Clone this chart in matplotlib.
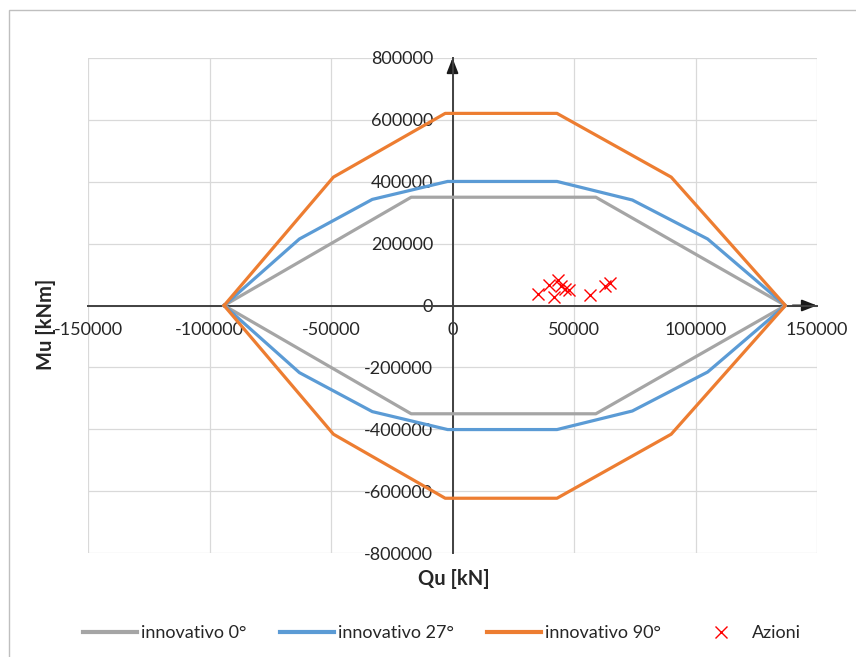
import matplotlib

matplotlib.use("Agg")
import matplotlib.pyplot as plt
from matplotlib.lines import Line2D
from matplotlib.patches import Rectangle

plt.rcParams["font.family"] = ["Lato", "DejaVu Sans"]

# --------------------------------------------------------------------------- #
# Data (Qu [kN], Mu [kNm])
# --------------------------------------------------------------------------- #
qu_0 = [-94000, -17000, 59000, 137000, 59000, -17000, -94000]
mu_0 = [0, 350000, 350000, 0, -350000, -350000, 0]

qu_27 = [-94000, -63000, -33000, -2000, 43000, 74000, 105000, 137000,
         105000, 74000, 43000, -2000, -33000, -63000, -94000]
mu_27 = [0, 215000, 343000, 401000, 401000, 341000, 215000, 0,
         -215000, -341000, -401000, -401000, -343000, -217000, 0]

qu_90 = [-94000, -49000, -3000, 43000, 90000, 137000,
         90000, 43000, -3000, -49000, -94000]
mu_90 = [0, 415000, 621000, 621000, 415000, 0,
         -416000, -623000, -623000, -416000, 0]

qu_azioni = [35100, 41700, 39900, 43300, 44700, 46100, 48100, 56400, 62600, 65000]
mu_azioni = [37900, 26900, 67000, 80900, 62500, 54000, 48500, 32400, 62500, 73500]

x_ticks = [-150000, -100000, -50000, 0, 50000, 100000, 150000]
y_ticks = [-800000, -600000, -400000, -200000, 0, 200000, 400000, 600000, 800000]

GRAY, BLUE, ORANGE, RED = "#A5A5A5", "#5B9BD5", "#ED7D31", "#FF0000"
AXIS_COL = "#404040"
FS = 13

# --------------------------------------------------------------------------- #
# Figure
# --------------------------------------------------------------------------- #
fig = plt.figure(figsize=(8.56, 6.57), dpi=100)
ax = fig.add_axes([88 / 856, 1 - 553 / 657, (817 - 88) / 856, (553 - 58) / 657])

ax.plot(qu_0, mu_0, color=GRAY, lw=2.3, zorder=3, label="innovativo 0°")
ax.plot(qu_27, mu_27, color=BLUE, lw=2.3, zorder=3, label="innovativo 27°")
ax.plot(qu_90, mu_90, color=ORANGE, lw=2.3, zorder=3, label="innovativo 90°")
ax.plot(qu_azioni, mu_azioni, ls="none", marker="x", ms=9, mew=1.0,
        color=RED, zorder=4, label="Azioni")

ax.set_xlim(x_ticks[0], x_ticks[-1])
ax.set_ylim(y_ticks[0], y_ticks[-1])
ax.set_xticks(x_ticks, [str(t) for t in x_ticks])
ax.set_yticks(y_ticks, [str(t) for t in y_ticks])
ax.grid(True, color="#D9D9D9", lw=0.9, zorder=0)
ax.set_axisbelow(True)

# axes through the origin, with arrow heads
for side in ("top", "right"):
    ax.spines[side].set_visible(False)
for side in ("left", "bottom"):
    ax.spines[side].set_position("zero")
    ax.spines[side].set_color(AXIS_COL)
    ax.spines[side].set_linewidth(1.4)
    ax.spines[side].set_zorder(2)
ax.tick_params(axis="both", length=0, labelsize=FS, colors="#262626")
ax.tick_params(axis="x", pad=12)
ax.tick_params(axis="y", pad=14)
arrow = dict(arrowstyle="-|>,head_length=0.9,head_width=0.35", color="#1a1a1a",
             lw=1.4, shrinkA=0, shrinkB=0)
ax.annotate("", xy=(150000, 0), xytext=(140000, 0), arrowprops=arrow, zorder=2)
ax.annotate("", xy=(0, 800000), xytext=(0, 760000), arrowprops=arrow, zorder=2)

fig.text(46 / 856, 1 - 324 / 657, "Mu [kNm]", rotation=90, ha="center",
         va="center", fontsize=14.5, fontweight="bold", color="#262626")
fig.text(454 / 856, 1 - 579 / 657, "Qu [kN]", ha="center", va="center",
         fontsize=14.5, fontweight="bold", color="#262626")

handles = [
    Line2D([], [], color=GRAY, lw=3),
    Line2D([], [], color=BLUE, lw=3),
    Line2D([], [], color=ORANGE, lw=3),
    Line2D([], [], ls="none", marker="x", ms=9, mew=1.0, color=RED),
]
labels = ["innovativo 0°", "innovativo 27°", "innovativo 90°", "Azioni"]
fig.legend(handles, labels, loc="center", bbox_to_anchor=(442 / 856, 1 - 633 / 657),
           ncol=4, frameon=False, fontsize=FS, handlelength=3.0,
           handletextpad=0.2, columnspacing=1.85, labelcolor="#262626")

# outer chart border (right/bottom edges fall outside the crop)
fig.add_artist(Rectangle((8.5 / 856, -0.05), 1.2, 1 - 10 / 657 + 0.05,
                         transform=fig.transFigure, fill=False,
                         edgecolor="#BFBFBF", lw=1.0, clip_on=False))

fig.savefig("out.png", dpi=100)
